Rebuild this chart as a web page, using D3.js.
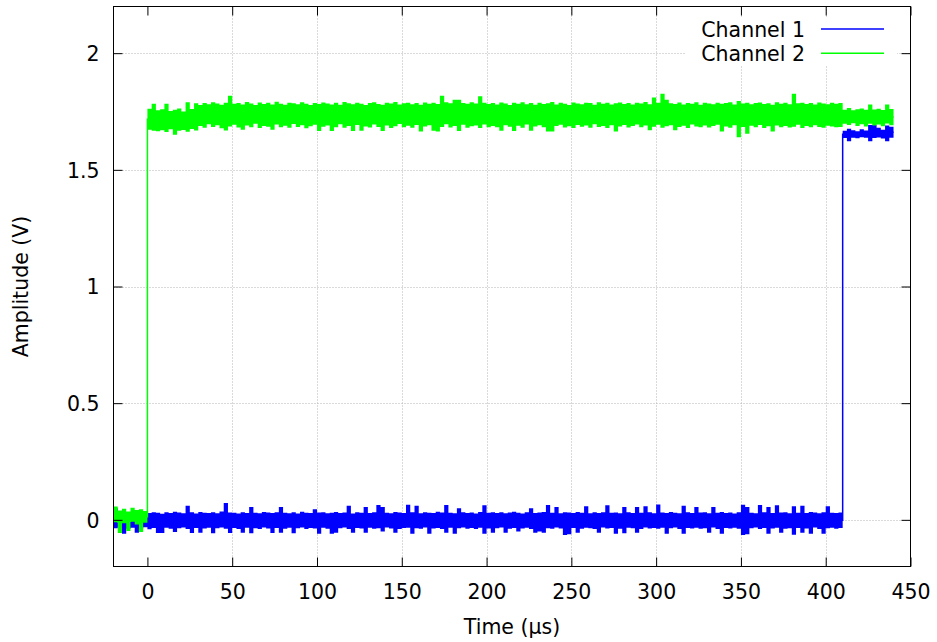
<!DOCTYPE html>
<html>
<head>
<meta charset="utf-8">
<script src="https://cdn.jsdelivr.net/npm/d3@7"></script>
<style>
  body { margin: 0; background: #fff; }
  text { font-family: "DejaVu Sans", sans-serif; }
</style>
</head>
<body>
<div id="chart"></div>
<script>
// Sampling of the traces: one envelope bin every 2.5 µs starting at -20 µs
var timeStart = -20;
var timeStep = 2.5;

// Channel 1: upper / lower edge of the trace in each bin (mV)
var ch1HighMv = [
  50, 30, 34, 28, 32, 36, 27, 31, 29, 33,
  30, 26, 33, 29, 35, 31, 28, 60, 32, 27,
  34, 30, 29, 33, 28, 36, 72, 31, 30, 27,
  33, 29, 55, 30, 28, 34, 31, 29, 32, 55,
  30, 28, 33, 27, 35, 30, 29, 45, 31, 33,
  28, 30, 34, 29, 31, 60, 27, 33, 30, 55,
  29, 32, 64, 55, 30, 28, 34, 31, 29, 65,
  32, 60, 28, 33, 30, 29, 35, 31, 64, 30,
  28, 50, 33, 29, 31, 27, 34, 62, 30, 32,
  29, 33, 28, 31, 35, 30, 27, 32, 50, 29,
  31, 34, 64, 30, 55, 28, 33, 31, 29, 34,
  30, 58, 28, 32, 29, 33, 62, 30, 31, 28,
  55, 32, 29, 55, 30, 58, 33, 28, 66, 31,
  29, 34, 30, 28, 60, 32, 29, 55, 31, 33,
  28, 55, 30, 34, 29, 31, 27, 33, 65, 55,
  30, 28, 64, 32, 55, 29, 62, 31, 33, 28,
  58, 30, 60, 29, 34, 31, 28, 32, 58, 30,
  29, 31,
  1668, 1676, 1670, 1665, 1674, 1669, 1692, 1693, 1680, 1672, 1690, 1685
];
var ch1LowMv = [
  -36, -33, -60, -38, -34, -55, -37, -32, -40, -35,
  -56, -56, -34, -38, -52, -36, -33, -39, -56, -35,
  -55, -37, -34, -58, -36, -33, -38, -56, -35, -39,
  -55, -34, -58, -36, -39, -33, -37, -56, -35, -55,
  -38, -34, -57, -36, -33, -39, -35, -37, -60, -34,
  -38, -60, -55, -36, -33, -39, -55, -35, -37, -55,
  -34, -38, -36, -50, -33, -37, -55, -39, -35, -34,
  -60, -36, -38, -33, -60, -37, -35, -39, -55, -34,
  -60, -36, -33, -38, -35, -39, -34, -60, -37, -55,
  -36, -33, -55, -38, -35, -50, -37, -34, -39, -55,
  -50, -55, -36, -38, -33, -37, -65, -62, -35, -55,
  -38, -34, -36, -39, -55, -33, -37, -35, -60, -38,
  -58, -34, -36, -55, -39, -33, -37, -35, -38, -34,
  -60, -36, -33, -39, -60, -35, -37, -34, -38, -36,
  -55, -33, -39, -60, -35, -37, -34, -38, -65, -62,
  -36, -33, -39, -35, -60, -37, -34, -55, -38, -36,
  -64, -35, -55, -37, -60, -33, -39, -60, -36, -34,
  -38, -35,
  1636, 1622, 1638, 1635, 1640, 1637, 1622, 1636, 1639, 1634, 1622, 1637
];

// Channel 2: upper / lower edge of the trace in each bin (mV)
var ch2HighMv = [
  57, 40, 48, 36, 52, 42, 45, 38, 1762, 1783,
  1755, 1760, 1783, 1752, 1758, 1763, 1750, 1790, 1761, 1785,
  1778, 1786, 1781, 1790, 1784, 1779, 1788, 1817, 1783, 1786,
  1780, 1791, 1784, 1778, 1789, 1782, 1787, 1780, 1792, 1783,
  1779, 1788, 1785, 1781, 1790, 1783, 1778, 1786, 1782, 1789,
  1784, 1780, 1787, 1779, 1791, 1785, 1781, 1788, 1783, 1778,
  1786, 1790, 1782, 1779, 1787, 1784, 1791, 1780, 1785, 1788,
  1781, 1786, 1779, 1789, 1783, 1787, 1782, 1817, 1790, 1785,
  1800, 1800, 1786, 1783, 1790, 1784, 1815, 1788, 1782, 1786,
  1780, 1789, 1784, 1778, 1787, 1783, 1790, 1781, 1786, 1779,
  1788, 1782, 1785, 1791, 1780, 1787, 1783, 1778, 1789, 1784,
  1781, 1788, 1786, 1779, 1790, 1783, 1787, 1780, 1785, 1789,
  1782, 1786, 1780, 1788, 1784, 1791, 1781, 1810, 1787, 1826,
  1800, 1785, 1782, 1789, 1780, 1786, 1783, 1790, 1779, 1787,
  1784, 1781, 1788, 1783, 1786, 1790, 1780, 1795, 1784, 1788,
  1781, 1786, 1789, 1782, 1785, 1779, 1790, 1783, 1787, 1781,
  1826, 1785, 1788, 1782, 1786, 1780, 1789, 1784, 1781, 1787,
  1783, 1786, 1758, 1765, 1755, 1760, 1763, 1757, 1780, 1759,
  1762, 1756, 1780, 1761
];
var ch2LowMv = [
  -10, -56, -15, -48, -8, -20, -52, -12, 1672, 1668,
  1665, 1670, 1662, 1674, 1650, 1668, 1671, 1663, 1675, 1669,
  1688, 1680, 1695, 1684, 1691, 1678, 1669, 1686, 1693, 1681,
  1672, 1690, 1683, 1697, 1679, 1688, 1685, 1672, 1694, 1682,
  1689, 1680, 1696, 1684, 1691, 1678, 1687, 1693, 1666, 1685,
  1690, 1666, 1683, 1695, 1680, 1688, 1666, 1692, 1668, 1686,
  1681, 1694, 1684, 1666, 1690, 1679, 1687, 1696, 1683, 1689,
  1680, 1692, 1664, 1686, 1691, 1668, 1664, 1684, 1695, 1681,
  1688, 1666, 1693, 1680, 1687, 1690, 1679, 1694, 1683, 1688,
  1682, 1668, 1691, 1685, 1666, 1689, 1680, 1694, 1668, 1686,
  1691, 1683, 1664, 1664, 1688, 1693, 1681, 1687, 1679, 1692,
  1685, 1690, 1680, 1695, 1684, 1688, 1679, 1691, 1664, 1686,
  1692, 1681, 1688, 1694, 1683, 1690, 1670, 1685, 1693, 1680,
  1687, 1691, 1670, 1684, 1689, 1679, 1694, 1686, 1682, 1690,
  1681, 1688, 1693, 1664, 1686, 1680, 1691, 1640, 1684, 1655,
  1689, 1682, 1692, 1679, 1687, 1664, 1690, 1683, 1688, 1681,
  1685, 1693, 1679, 1688, 1682, 1691, 1684, 1680, 1689, 1686,
  1683, 1684, 1698, 1692, 1700, 1688, 1695, 1686, 1697, 1690,
  1694, 1687, 1699, 1691
];

var seriesNames = ["Channel 1", "Channel 2"];
var seriesColors = ["#0000ff", "#00ff00"];
var xTicks = [0, 50, 100, 150, 200, 250, 300, 350, 400, 450];
var yTicks = [0, 0.5, 1, 1.5, 2];

// Build bins for each channel (last point repeated so the final step is drawn)
function makeBins(high, low) {
  var bins = high.map(function (h, i) {
    return { t: timeStart + i * timeStep, hi: h / 1000, lo: low[i] / 1000 };
  });
  var last = bins[bins.length - 1];
  bins.push({ t: last.t + timeStep, hi: last.hi, lo: last.lo });
  return bins;
}

var channels = [makeBins(ch1HighMv, ch1LowMv), makeBins(ch2HighMv, ch2LowMv)];

// Setup SVG
var width = 937;
var height = 642;
var plotLeft = 113.5, plotRight = 910.5, plotTop = 6.5, plotBottom = 566.5;

var svg = d3
  .select("#chart")
  .append("svg")
  .attr("width", width)
  .attr("height", height);

var x = d3.scaleLinear().domain([-20, 450]).range([plotLeft, plotRight]);
var y = d3.scaleLinear().domain([-0.2, 2.2]).range([plotBottom, plotTop]);

// Dotted grid
var grid = svg.append("g").attr("stroke", "#b4b4b4").attr("stroke-dasharray", "1,2");
grid
  .selectAll(".gx")
  .data(xTicks.slice(1, -1))
  .enter()
  .append("line")
  .attr("x1", function (d) { return Math.round(x(d)) + 0.5; })
  .attr("x2", function (d) { return Math.round(x(d)) + 0.5; })
  .attr("y1", plotTop)
  .attr("y2", plotBottom);
grid
  .selectAll(".gy")
  .data(yTicks)
  .enter()
  .append("line")
  .attr("y1", function (d) { return Math.round(y(d)) + 0.5; })
  .attr("y2", function (d) { return Math.round(y(d)) + 0.5; })
  .attr("x1", plotLeft)
  .attr("x2", plotRight);

// Traces: filled envelope plus a thin centre line for the edges
var area = d3
  .area()
  .curve(d3.curveStepAfter)
  .x(function (d) { return x(d.t); })
  .y0(function (d) { return y(d.lo); })
  .y1(function (d) { return y(d.hi); });

var mid = d3
  .line()
  .curve(d3.curveStepAfter)
  .x(function (d) { return x(d.t); })
  .y(function (d) { return y((d.hi + d.lo) / 2); });

channels.forEach(function (bins, i) {
  svg.append("path").attr("d", area(bins)).attr("fill", seriesColors[i]);
  svg
    .append("path")
    .attr("d", mid(bins))
    .attr("fill", "none")
    .attr("stroke", seriesColors[i])
    .attr("stroke-width", 1.5);
});

// Axes with inward ticks, mirrored on top and right
var fontSize = "20.5px";

var xAxis = svg
  .append("g")
  .attr("transform", "translate(0," + plotBottom + ")")
  .call(d3.axisBottom(x).tickValues(xTicks).tickSize(-9).tickPadding(18));
var yAxis = svg
  .append("g")
  .attr("transform", "translate(" + plotLeft + ",0)")
  .call(
    d3.axisLeft(y).tickValues(yTicks).tickSize(-9).tickPadding(14)
      .tickFormat(function (d) { return d; })
  );
var xTop = svg
  .append("g")
  .attr("transform", "translate(0," + plotTop + ")")
  .call(d3.axisTop(x).tickValues(xTicks).tickSize(-9).tickFormat(""));
var yRight = svg
  .append("g")
  .attr("transform", "translate(" + plotRight + ",0)")
  .call(d3.axisRight(y).tickValues(yTicks).tickSize(-9).tickFormat(""));

[xAxis, yAxis, xTop, yRight].forEach(function (a) {
  a.select(".domain").remove();
  a.selectAll("line").attr("stroke", "#000");
  a.selectAll("text")
    .attr("fill", "#000")
    .style("font-family", "DejaVu Sans")
    .style("font-size", fontSize);
});
yAxis.selectAll("text").attr("dy", "0.36em");

// Legend box (opaque) with samples
var legend = svg.append("g");
legend
  .append("rect")
  .attr("x", 685)
  .attr("y", 17)
  .attr("width", 212)
  .attr("height", 49)
  .attr("fill", "#fff");

seriesNames.forEach(function (name, i) {
  var ly = 29 + i * 24.3;
  legend
    .append("text")
    .attr("x", 805)
    .attr("y", ly + 7.5)
    .attr("text-anchor", "end")
    .style("font-size", fontSize)
    .text(name);
  legend
    .append("line")
    .attr("x1", 821)
    .attr("x2", 884)
    .attr("y1", ly)
    .attr("y2", ly)
    .attr("stroke", seriesColors[i])
    .attr("stroke-width", 1.5);
});

// Plot border
svg
  .append("rect")
  .attr("x", plotLeft)
  .attr("y", plotTop)
  .attr("width", plotRight - plotLeft)
  .attr("height", plotBottom - plotTop)
  .attr("fill", "none")
  .attr("stroke", "#000")
  .attr("stroke-width", 1);

// Axis titles
svg
  .append("text")
  .attr("x", (plotLeft + plotRight) / 2)
  .attr("y", 634)
  .attr("text-anchor", "middle")
  .style("font-size", fontSize)
  .text("Time (µs)");

svg
  .append("text")
  .attr("transform", "translate(28," + (plotTop + plotBottom) / 2 + ") rotate(-90)")
  .attr("text-anchor", "middle")
  .style("font-size", fontSize)
  .text("Amplitude (V)");
</script>
</body>
</html>
